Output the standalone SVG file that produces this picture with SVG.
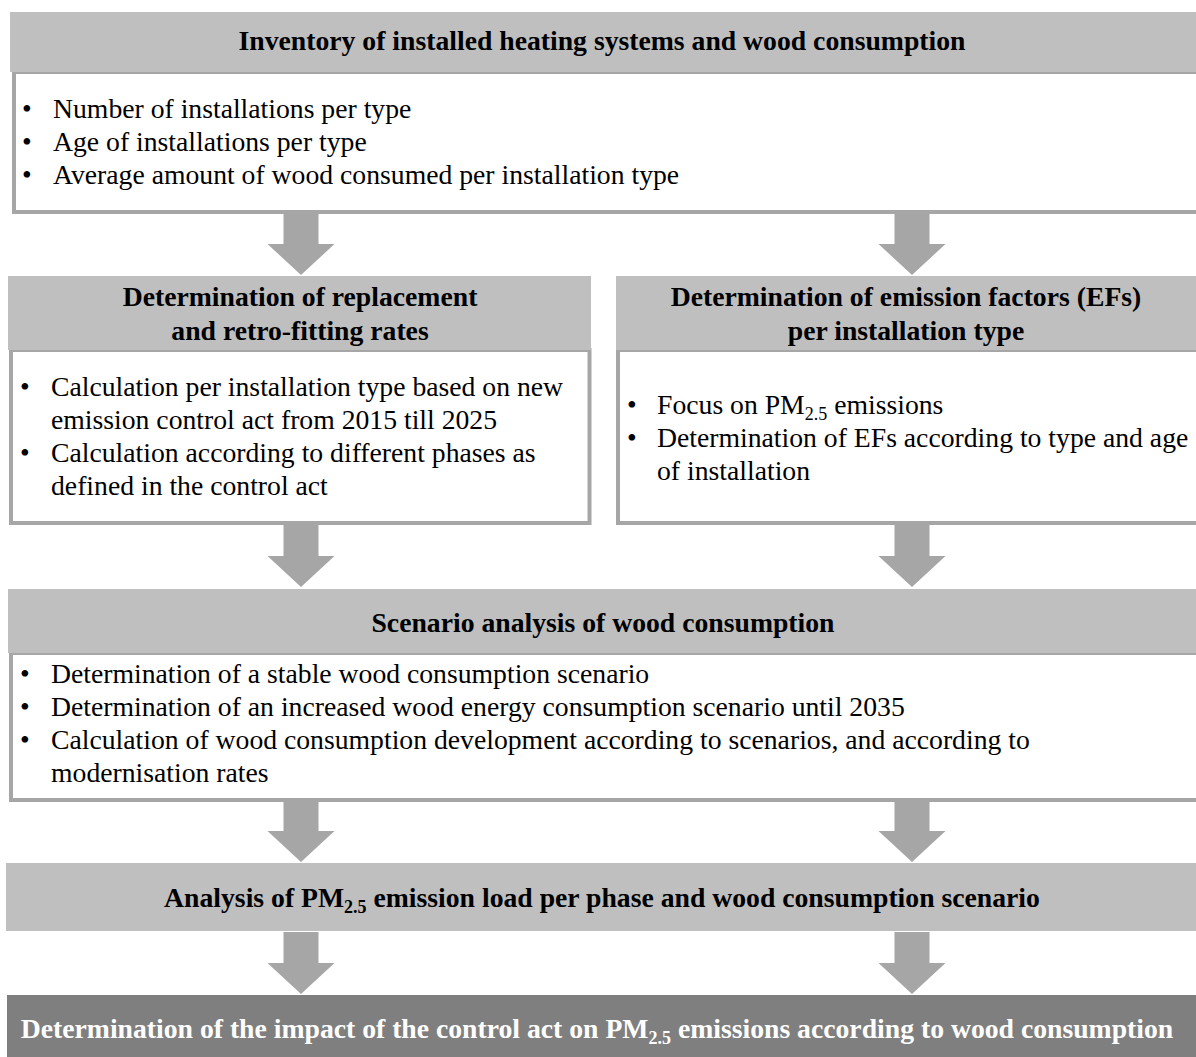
<svg xmlns="http://www.w3.org/2000/svg" xmlns:xlink="http://www.w3.org/1999/xlink" width="1196" height="1057" viewBox="0 0 1196 1057">
<style>
text{font-family:"Liberation Serif","Times New Roman",serif;font-size:27.7px;fill:#000}
.t{font-weight:bold;text-anchor:middle}
.w{fill:#fff}
.hd{fill:#bfbfbf}
.bd{fill:#fff;stroke:#a6a6a6;stroke-width:4}
.ar{fill:#a6a6a6}
.fin{fill:#7f7f7f}
.sub{font-size:18px}
</style>
<defs>
<path id="arr" class="ar" d="M-17.5,0 H17.5 V31 H33.5 L0,62 L-33.5,31 H-17.5 Z"/>
</defs>
<rect width="1196" height="1057" fill="#fff"/>
<g id="connectors">
<use xlink:href="#arr" href="#arr" x="301" y="213"/>
<use xlink:href="#arr" href="#arr" x="912" y="213"/>
<use xlink:href="#arr" href="#arr" x="301" y="525"/>
<use xlink:href="#arr" href="#arr" x="912" y="525"/>
<use xlink:href="#arr" href="#arr" x="301" y="800"/>
<use xlink:href="#arr" href="#arr" x="912" y="800"/>
<use xlink:href="#arr" href="#arr" x="301" y="932"/>
<use xlink:href="#arr" href="#arr" x="912" y="932"/>
</g>
<g id="inventory">
<rect class="bd" x="14" y="72" width="1200" height="140"/>
<rect class="hd" x="10" y="12" width="1200" height="60"/>
<text class="t" x="602" y="50">Inventory of installed heating systems and wood consumption</text>
<text x="22" y="118">•</text><text x="53" y="118">Number of installations per type</text>
<text x="22" y="151">•</text><text x="53" y="151">Age of installations per type</text>
<text x="22" y="184">•</text><text x="53" y="184">Average amount of wood consumed per installation type</text>
</g>
<g id="replacement">
<rect class="bd" x="11" y="350" width="578.5" height="173"/>
<rect class="hd" x="8" y="276" width="583" height="74"/>
<text class="t" x="300" y="306">Determination of replacement</text>
<text class="t" x="300" y="340">and retro-fitting rates</text>
<text x="20" y="396">•</text><text x="51" y="396">Calculation per installation type based on new</text>
<text x="51" y="429">emission control act from 2015 till 2025</text>
<text x="20" y="462">•</text><text x="51" y="462">Calculation according to different phases as</text>
<text x="51" y="495">defined in the control act</text>
</g>
<g id="emission-factors">
<rect class="bd" x="618" y="350" width="600" height="173"/>
<rect class="hd" x="616" y="276" width="600" height="74"/>
<text class="t" x="906" y="306">Determination of emission factors (EFs)</text>
<text class="t" x="906" y="340">per installation type</text>
<text x="627" y="414">•</text><text x="657" y="414">Focus on PM<tspan class="sub" dy="6">2.5</tspan><tspan dy="-6"> emissions</tspan></text>
<text x="627" y="447">•</text><text x="657" y="447">Determination of EFs according to type and age</text>
<text x="657" y="480">of installation</text>
</g>
<g id="scenario">
<rect class="bd" x="11" y="653" width="1200" height="147"/>
<rect class="hd" x="8" y="589" width="1200" height="64"/>
<text class="t" x="603" y="632">Scenario analysis of wood consumption</text>
<text x="20" y="683">•</text><text x="51" y="683">Determination of a stable wood consumption scenario</text>
<text x="20" y="716">•</text><text x="51" y="716">Determination of an increased wood energy consumption scenario until 2035</text>
<text x="20" y="749">•</text><text x="51" y="749">Calculation of wood consumption development according to scenarios, and according to</text>
<text x="51" y="782">modernisation rates</text>
</g>
<g id="analysis">
<rect class="hd" x="6" y="863" width="1200" height="68"/>
<text class="t" x="602" y="907">Analysis of PM<tspan class="sub" dy="6">2.5</tspan><tspan dy="-6"> emission load per phase and wood consumption scenario</tspan></text>
</g>
<g id="impact">
<rect class="fin" x="7" y="995" width="1200" height="70"/>
<text class="t w" x="597" y="1038">Determination of the impact of the control act on PM<tspan class="sub" dy="6">2.5</tspan><tspan dy="-6"> emissions according to wood consumption</tspan></text>
</g>
</svg>
